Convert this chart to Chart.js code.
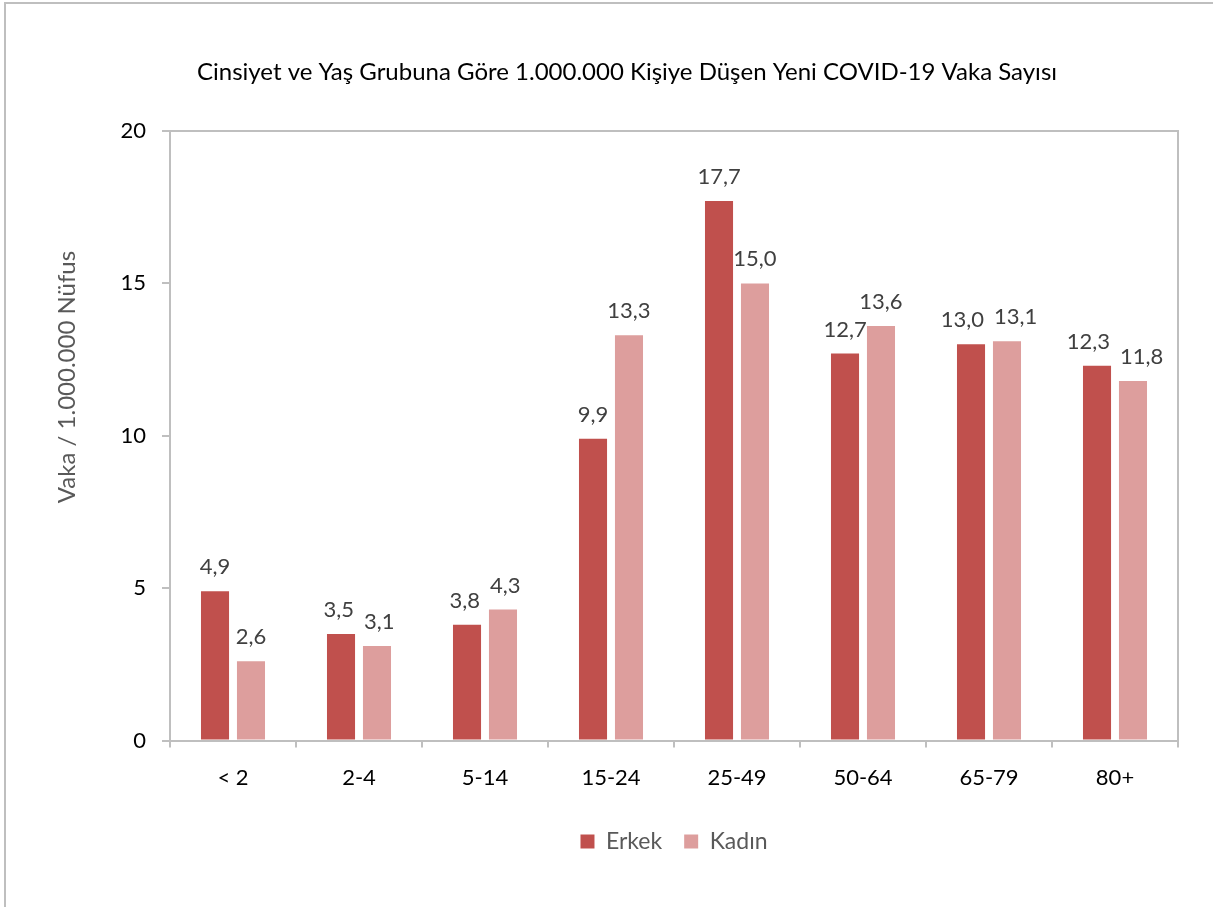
<!DOCTYPE html>
<html>
<head>
<meta charset="utf-8">
<script src="https://cdn.jsdelivr.net/npm/chart.js@4.4.1/dist/chart.umd.min.js"></script>
<style>
  html, body { margin: 0; padding: 0; background: #fff; }
  #wrap { position: relative; width: 1213px; height: 907px; }
  #frame { position: absolute; left: 4px; top: 2px; right: -10px; bottom: -10px; border-left: 2px solid #BFBFBF; border-top: 2px solid #BFBFBF; pointer-events: none; }
  canvas { position: absolute; left: 0; top: 0; }
</style>
</head>
<body>
<div id="wrap">
  <canvas id="c" width="1213" height="907"></canvas>
  <div id="frame"></div>
</div>
<script>
const categories = ['< 2', '2-4', '5-14', '15-24', '25-49', '50-64', '65-79', '80+'];
const erkek = [4.9, 3.5, 3.8, 9.9, 17.7, 12.7, 13.0, 12.3];
const kadin = [2.6, 3.1, 4.3, 13.3, 15.0, 13.6, 13.1, 11.8];
const seriesNames = ['Erkek', 'Kadın'];
const yTicks = [0, 5, 10, 15, 20];
const titleText = 'Cinsiyet ve Yaş Grubuna Göre 1.000.000 Kişiye Düşen Yeni COVID-19 Vaka Sayısı';
const yTitleText = 'Vaka / 1.000.000 Nüfus';

const FONT = 'Lato';
const GRID = '#BFBFBF';

// value labels above bars; overlapping labels inside a group are pushed apart
const valueLabels = {
  id: 'valueLabels',
  afterDatasetsDraw(chart) {
    const ctx = chart.ctx;
    ctx.save();
    ctx.font = '22px ' + FONT;
    ctx.fillStyle = '#404040';
    ctx.textAlign = 'center';
    ctx.textBaseline = 'alphabetic';
    const n = chart.data.labels.length;
    const PAD = 10, H = 22;
    for (let j = 0; j < n; j++) {
      const items = chart.data.datasets.map((ds, i) => {
        const bar = chart.getDatasetMeta(i).data[j];
        const text = ds.data[j].toFixed(1).replace('.', ',');
        return { text, x: bar.x, y: bar.y - 17, w: ctx.measureText(text).width + PAD };
      });
      const a = items[0], b = items[1];
      const vOverlap = Math.abs(a.y - b.y) < H;
      const need = (a.w + b.w) / 2;
      const dist = b.x - a.x;
      if (vOverlap && dist < need) {
        const s = (need - dist) / 2;
        a.x -= s; b.x += s;
      }
      items.forEach(it => ctx.fillText(it.text, it.x, it.y));
    }
    ctx.restore();
  }
};

const frameAndTitle = {
  id: 'frameAndTitle',
  afterDraw(chart) {
    const ctx = chart.ctx;
    const a = chart.chartArea;
    ctx.save();
    ctx.strokeStyle = GRID;
    ctx.lineWidth = 2;
    ctx.beginPath();
    ctx.moveTo(a.left, a.top);
    ctx.lineTo(a.right, a.top);
    ctx.lineTo(a.right, a.bottom);
    ctx.stroke();
    // chart title
    ctx.font = '24px ' + FONT;
    ctx.fillStyle = '#000';
    ctx.textAlign = 'center';
    ctx.textBaseline = 'middle';
    ctx.fillText(titleText, 627, 72);
    // y axis title
    ctx.translate(67, 377);
    ctx.rotate(-Math.PI / 2);
    ctx.font = '24px ' + FONT;
    ctx.fillStyle = '#595959';
    ctx.fillText(yTitleText, 0, 0);
    ctx.restore();
  }
};

new Chart(document.getElementById('c'), {
  type: 'bar',
  data: {
    labels: categories,
    datasets: [
      { label: seriesNames[0], data: erkek, backgroundColor: '#C0504D', categoryPercentage: 0.571, barPercentage: 0.78 },
      { label: seriesNames[1], data: kadin, backgroundColor: '#DD9E9D', categoryPercentage: 0.571, barPercentage: 0.78 }
    ]
  },
  options: {
    responsive: false,
    animation: false,
    layout: { padding: { left: 0, right: 35, top: 131, bottom: 44 } },
    plugins: {
      title: { display: false },
      legend: {
        position: 'bottom',
        fullSize: false,
        labels: {
          color: '#595959',
          font: { family: FONT, size: 23 },
          boxWidth: 14,
          boxHeight: 14,
          padding: 22
        }
      },
      tooltip: { enabled: false }
    },
    scales: {
      x: {
        grid: { display: true, drawOnChartArea: false, drawTicks: true, tickLength: 7, color: GRID, lineWidth: 2, offset: true },
        border: { display: true, color: GRID, width: 2 },
        ticks: { color: '#000', font: { family: FONT, size: 22 }, padding: 17 }
      },
      y: {
        min: 0,
        max: 20,
        afterFit(scale) { scale.width = 170; },
        afterBuildTicks(scale) { scale.ticks = yTicks.map(v => ({ value: v })); },
        grid: { display: true, drawOnChartArea: false, drawTicks: true, tickLength: 8, color: GRID, lineWidth: 2 },
        border: { display: true, color: GRID, width: 2 },
        ticks: { color: '#000', font: { family: FONT, size: 22 }, padding: 16 }
      }
    }
  },
  plugins: [valueLabels, frameAndTitle]
});
</script>
</body>
</html>
